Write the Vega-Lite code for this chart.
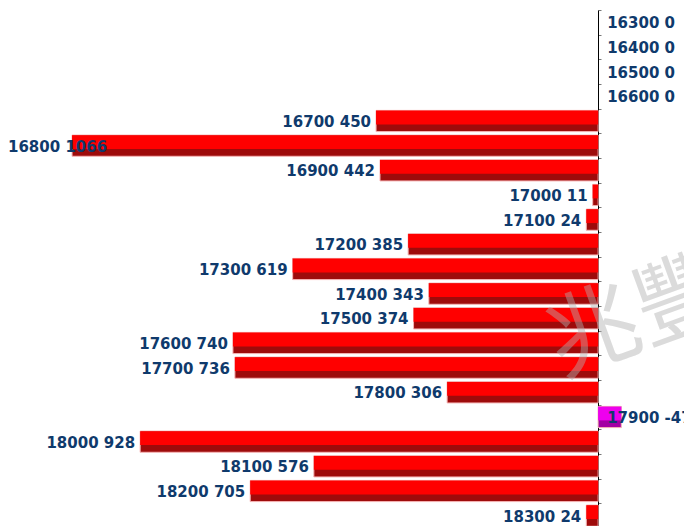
{
  "$schema": "https://vega.github.io/schema/vega-lite/v6.json",
  "width": 684,
  "height": 518,
  "padding": {"top": 10, "left": 0, "right": 0, "bottom": 0},
  "autosize": {"type": "none"},
  "background": "#ffffff",
  "config": {"view": {"stroke": null}},
  "data": {
    "values": [
      {"strike": "16300", "v": 0},
      {"strike": "16400", "v": 0},
      {"strike": "16500", "v": 0},
      {"strike": "16600", "v": 0},
      {"strike": "16700", "v": 450},
      {"strike": "16800", "v": 1066},
      {"strike": "16900", "v": 442},
      {"strike": "17000", "v": 11},
      {"strike": "17100", "v": 24},
      {"strike": "17200", "v": 385},
      {"strike": "17300", "v": 619},
      {"strike": "17400", "v": 343},
      {"strike": "17500", "v": 374},
      {"strike": "17600", "v": 740},
      {"strike": "17700", "v": 736},
      {"strike": "17800", "v": 306},
      {"strike": "17900", "v": -47},
      {"strike": "18000", "v": 928},
      {"strike": "18100", "v": 576},
      {"strike": "18200", "v": 705},
      {"strike": "18300", "v": 24}
    ]
  },
  "encoding": {
    "y": {
      "field": "strike",
      "type": "ordinal",
      "sort": "ascending",
      "scale": {"paddingInner": 0, "paddingOuter": 0},
      "axis": {
        "orient": "right",
        "offset": -86,
        "labels": false,
        "title": null,
        "tickBand": "extent",
        "tickSize": 3,
        "tickColor": "#777777",
        "domainColor": "#000000",
        "domainWidth": 1,
        "grid": false
      }
    }
  },
  "layer": [
    {
      "mark": {"type": "bar", "height": {"band": 0.86}, "stroke": "#f6b4b4", "strokeWidth": 1},
      "encoding": {
        "x": {
          "field": "v",
          "type": "quantitative",
          "scale": {"domain": [-174, 1212], "reverse": true, "nice": false, "zero": false},
          "axis": null
        },
        "x2": {"datum": 0},
        "strokeOpacity": {
          "condition": {"test": "datum.v == 0", "value": 0},
          "value": 1
        },
        "color": {
          "condition": {"test": "datum.v < 0", "value": "#a300a3"},
          "value": "#9e0b0b"
        }
      }
    },
    {
      "mark": {"type": "bar", "height": {"band": 0.56}, "yOffset": -3.5},
      "encoding": {
        "x": {"field": "v", "type": "quantitative"},
        "x2": {"datum": 0},
        "color": {
          "condition": {"test": "datum.v < 0", "value": "#ee00ee"},
          "value": "#ff0000"
        }
      }
    },
    {
      "transform": [
        {"filter": "datum.v > 0 && datum.v < 1000"},
        {"calculate": "datum.strike + ' ' + datum.v", "as": "label"}
      ],
      "mark": {"type": "text", "align": "right", "baseline": "middle", "dx": -5, "dy": 1, "font": "DejaVu Sans", "fontWeight": "bold", "fontSize": 15, "color": "#0f3a6c"},
      "encoding": {
        "x": {"field": "v", "type": "quantitative"},
        "text": {"field": "label"}
      }
    },
    {
      "transform": [
        {"filter": "datum.v <= 0"},
        {"calculate": "datum.strike + ' ' + datum.v", "as": "label"}
      ],
      "mark": {"type": "text", "align": "left", "baseline": "middle", "dx": 9, "dy": 1, "font": "DejaVu Sans", "fontWeight": "bold", "fontSize": 15, "color": "#0f3a6c"},
      "encoding": {
        "x": {"datum": 0},
        "text": {"field": "label"}
      }
    },
    {
      "transform": [
        {"filter": "datum.v >= 1000"},
        {"calculate": "datum.strike + ' ' + datum.v", "as": "label"}
      ],
      "mark": {"type": "text", "align": "left", "baseline": "middle", "dx": 8, "dy": 1, "font": "DejaVu Sans", "fontWeight": "bold", "fontSize": 15, "color": "#0f3a6c"},
      "encoding": {
        "x": {"datum": 1212},
        "text": {"field": "label"}
      }
    },
    {
      "data": {"values": [{"mark": "兆豐"}]},
      "mark": {"type": "text", "align": "center", "baseline": "middle", "angle": -20, "font": "Noto Sans CJK TC", "fontWeight": "normal", "fontSize": 92, "color": "#b0b0b0", "opacity": 0.45},
      "encoding": {
        "x": {"datum": -80},
        "y": {"datum": "17500"},
        "text": {"field": "mark"}
      }
    }
  ]
}
